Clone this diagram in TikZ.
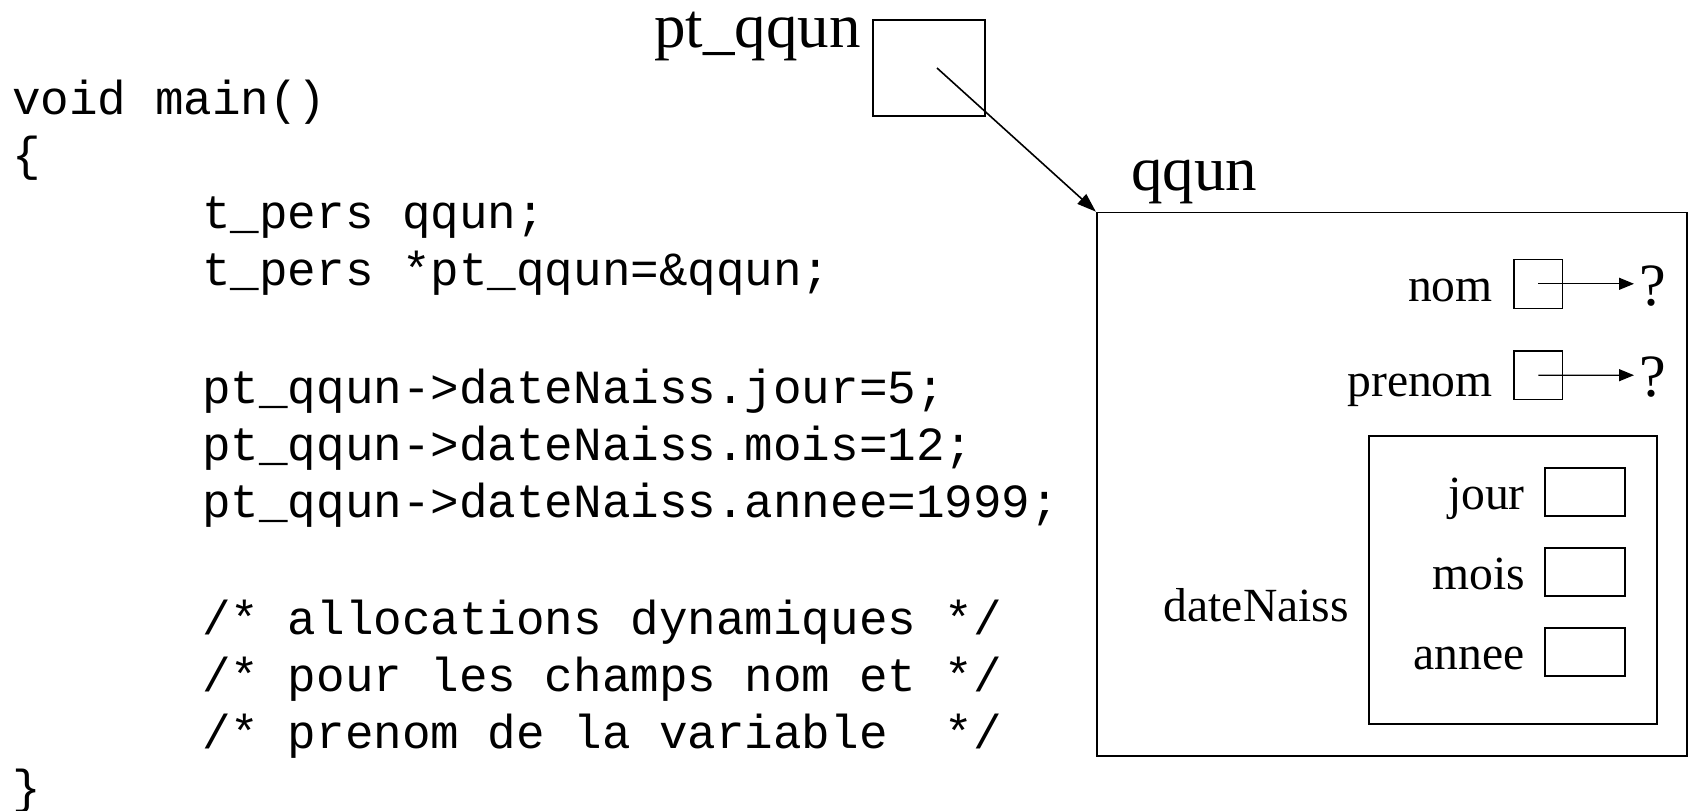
\documentclass[tikz,border=0pt]{standalone}
\usepackage{fontspec}
\setmainfont{Liberation Serif}
\newfontfamily\codefont{Liberation Mono}
\usetikzlibrary{arrows.meta,fit}
\tikzset{
  lbl/.style={inner sep=0pt, anchor=base east, font=\fontsize{47.6}{57}\selectfont},
  biglbl/.style={inner sep=0pt, font=\fontsize{63}{75}\selectfont},
  qmark/.style={inner sep=0pt, anchor=base west, font=\fontsize{60}{72}\selectfont},
  code/.style={inner sep=0pt, anchor=base west, font=\codefont\fontsize{47.6}{57}\selectfont},
  cellbox/.style={draw, line width=1.7pt, inner sep=0pt},
  thinbox/.style={draw, line width=1.3pt, inner sep=0pt},
  ptr/.style={line width=1.6pt, -{Triangle[length=19pt,width=13pt]}},
  smallptr/.style={line width=1.3pt, -{Triangle[length=15pt,width=12pt]}}
}
\begin{document}
\begin{tikzpicture}[x=1pt,y=-1pt]
\useasboundingbox (0,0) rectangle (1689,811);

% code
\node[code] (c0) at (12,114.5) {void main()};
\node[code] (c1) at (12,170) {\{};
\node[code] (c2) at (202,228.5) {t\_pers qqun;};
\node[code] (c3) at (202,285) {t\_pers *pt\_qqun=\&qqun;};
\node[code] (c5) at (202,403.7) {pt\_qqun->dateNaiss.jour=5;};
\node[code] (c6) at (202,460.3) {pt\_qqun->dateNaiss.mois=12;};
\node[code] (c7) at (202,517) {pt\_qqun->dateNaiss.annee=1999;};
\node[code] (c9) at (202,634.5) {/* allocations dynamiques */};
\node[code] (c10) at (202,691) {/* pour les champs nom et */};
\node[code] (c11) at (202,748) {/* prenom de la variable\ \ */};
\node[code] (c12) at (12,803) {\}};

% pointer variable
\node[biglbl, anchor=base east] (ptlbl) at (861,47) {pt\_qqun};
\node[cellbox, fit={(872.7,20) (985,115.7)}] (ptbox) {};
\coordinate (pstart) at (937,68);

% structure
\node[biglbl, anchor=base west] (qlbl) at (1131,190) {qqun};
\node[cellbox, fit={(1096.7,212.5) (1687,755.7)}] (qbox) {};
\draw[ptr] (pstart) -- (qbox.north west);

% nom / prenom
\node[lbl] (nomlbl) at (1493,301.7) {nom};
\node[thinbox, fit={(1514,259.3) (1562.7,308.3)}] (nombox) {};
\coordinate (nomend) at (1634,283.8);
\node[qmark] (nomq) at (1639,305) {?};
\draw[smallptr] (nombox.center) -- (nomend);

\node[lbl] (prelbl) at (1493,396.7) {prenom};
\node[thinbox, fit={(1514,351) (1562.7,399.3)}] (prebox) {};
\coordinate (preend) at (1634,375.2);
\node[qmark] (preq) at (1639,396.5) {?};
\draw[smallptr] (prebox.center) -- (preend);

% dateNaiss
\node[lbl] (datelbl) at (1349,621.7) {dateNaiss};
\node[cellbox, fit={(1369,436) (1657.3,724)}] (datebox) {};

\node[lbl] (jourlbl) at (1525,509.3) {jour};
\node[cellbox, fit={(1544.7,467.7) (1625,516)}] (jourbox) {};
\node[lbl] (moislbl) at (1525,589.3) {mois};
\node[cellbox, fit={(1544.7,547.7) (1625,596)}] (moisbox) {};
\node[lbl] (anneelbl) at (1525,669.5) {annee};
\node[cellbox, fit={(1544.7,627.7) (1625,676)}] (anneebox) {};
\end{tikzpicture}
\end{document}
